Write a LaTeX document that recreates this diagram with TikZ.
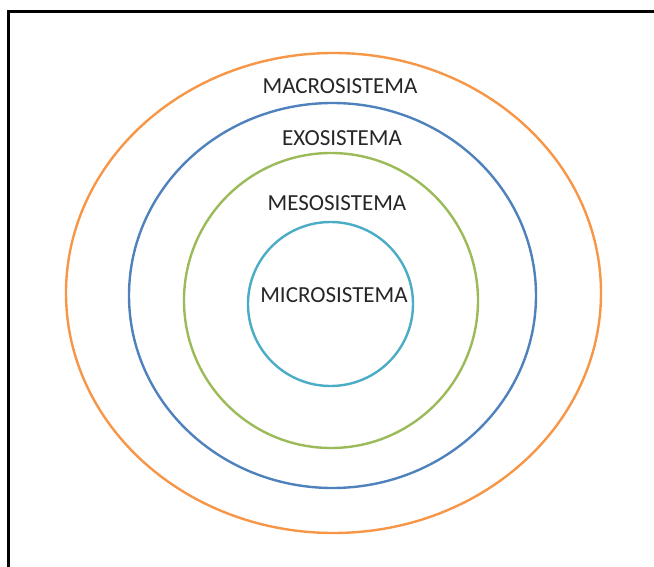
\documentclass[tikz,border=0pt]{standalone}
\usepackage{fontspec}
\setmainfont{Carlito}
\usepackage{tikz}
\usetikzlibrary{positioning}

\definecolor{macrocol}{HTML}{F79646}
\definecolor{exocol}{HTML}{4F81BD}
\definecolor{mesocol}{HTML}{9BBB59}
\definecolor{microcol}{HTML}{4BACC6}

\begin{document}
\begin{tikzpicture}[
        x = 1pt,
        y = -1pt,
        ring/.style = {line width=2.4pt},
        lvl/.style = {font=\fontsize{23}{26}\selectfont, text=black!85, inner sep=0pt}
        ]
        \useasboundingbox (0, 0) rectangle (654, 567);
        \draw[line width=3pt] (8, 567) -- (8, 12) -- (654, 12);
        \draw[ring, macrocol] (333.5, 293) ellipse [x radius=267.5, y radius=240];
        \draw[ring, exocol] (332.5, 295.5) ellipse [x radius=203.5, y radius=192.5];
        \draw[ring, mesocol] (331, 300.5) ellipse [x radius=147, y radius=147.5];
        \draw[ring, microcol] (330.5, 304) ellipse [x radius=82.5, y radius=82];
        \node[lvl] (macro) at (340, 86) {MACROSISTEMA};
        \node[lvl] (exo) at (342, 138) {EXOSISTEMA};
        \node[lvl] (meso) at (337, 203) {MESOSISTEMA};
        \node[lvl] (micro) at (334, 295) {MICROSISTEMA};
    \end{tikzpicture}
\end{document}
